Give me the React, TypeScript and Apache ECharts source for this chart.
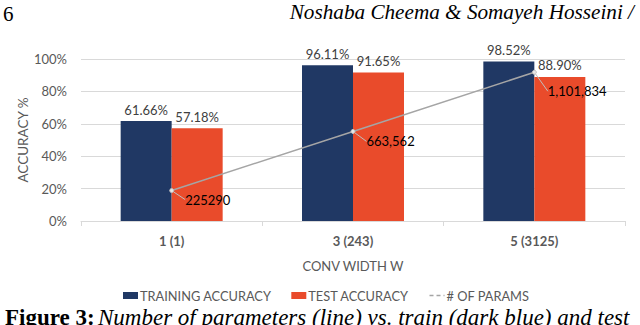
import React, { useEffect, useRef } from "react";
import * as echarts from "echarts";

const categories = ["1 (1)", "3 (243)", "5 (3125)"];
const trainAcc = [61.66, 96.11, 98.52];
const testAcc = [57.18, 91.65, 88.9];
const numParams = [225290, 663562, 1101834];
const paramLabels = ["225290", "663,562", "1,101,834"];
const yTicks = [0, 20, 40, 60, 80, 100];

const FONT = "Lato";
const GRAY = "#595959";

export default function App() {
  const ref = useRef<HTMLDivElement>(null);
  useEffect(() => {
    if (!ref.current) return;
    const chart = echarts.init(ref.current, null, { renderer: "svg" });
    const labelDy = [9, 10, 19];
    chart.setOption({
      animation: false,
      backgroundColor: "#ffffff",
      textStyle: { fontFamily: FONT },
      grid: { left: 81, right: 15, top: 59, bottom: 104 },
      legend: {
        top: 284,
        left: 118,
        itemWidth: 15,
        itemHeight: 7,
        itemGap: 20,
        textStyle: {
          color: GRAY,
          fontSize: 12.8,
          fontFamily: FONT,
          padding: [0, 0, 0, -3],
        },
        data: [
          { name: "TRAINING ACCURACY", icon: "rect" },
          { name: "TEST ACCURACY", icon: "rect" },
          {
            name: "# OF PARAMS",
            itemStyle: { opacity: 0 },
            lineStyle: { type: [4, 3], width: 1.5, color: "#A5A5A5" },
          },
        ],
      },
      xAxis: {
        type: "category",
        data: categories,
        boundaryGap: true,
        axisLine: { lineStyle: { color: "#D9D9D9" } },
        axisTick: { show: true, length: 5, lineStyle: { color: "#D9D9D9" } },
        axisLabel: {
          color: GRAY,
          fontSize: 13,
          fontWeight: "bold",
          margin: 13,
          fontFamily: FONT,
        },
        name: "CONV WIDTH W",
        nameLocation: "middle",
        nameGap: 38,
        nameTextStyle: { color: GRAY, fontSize: 13, fontFamily: FONT },
      },
      yAxis: [
        {
          type: "value",
          min: 0,
          max: 100,
          interval: 20,
          axisLabel: {
            formatter: (v: number) => (yTicks.includes(v) ? v + "%" : ""),
            color: GRAY,
            fontSize: 13,
            margin: 14,
            fontFamily: FONT,
          },
          splitLine: { lineStyle: { color: "#D9D9D9" } },
          axisLine: { show: false },
        },
        {
          type: "value",
          min: 0,
          max: 1200000,
          show: false,
          splitLine: { show: false },
        },
      ],
      series: [
        {
          name: "TRAINING ACCURACY",
          type: "bar",
          data: trainAcc,
          barWidth: 51,
          barGap: "0%",
          itemStyle: { color: "#203864" },
          label: {
            show: true,
            position: "top",
            formatter: (p: any) => p.value.toFixed(2) + "%",
            color: "#404040",
            fontSize: 13,
            fontFamily: FONT,
            distance: 5,
          },
        },
        {
          name: "TEST ACCURACY",
          type: "bar",
          data: testAcc,
          barWidth: 51,
          barGap: "0%",
          itemStyle: { color: "#E94B2B" },
          label: {
            show: true,
            position: "top",
            formatter: (p: any) => p.value.toFixed(2) + "%",
            color: "#404040",
            fontSize: 13,
            fontFamily: FONT,
            distance: 5,
          },
        },
        {
          name: "# OF PARAMS",
          type: "line",
          yAxisIndex: 1,
          data: numParams,
          symbol: "circle",
          symbolSize: 4,
          itemStyle: { color: "#E6E6E6", borderColor: "#BFBFBF", borderWidth: 1 },
          lineStyle: { color: "#A5A5A5", width: 1.5 },
          z: 5,
          label: {
            show: true,
            position: "right",
            distance: 5,
            formatter: (p: any) => paramLabels[p.dataIndex],
            color: "#000000",
            fontSize: 13,
            fontFamily: FONT,
          },
          labelLayout: (p: any) => ({ dx: 6, dy: labelDy[p.dataIndex] }),
          labelLine: {
            show: true,
            length2: 0,
            lineStyle: { color: "#BFBFBF", width: 1 },
          },
        },
      ],
      graphic: [
        {
          type: "text",
          x: 23,
          y: 140,
          rotation: Math.PI / 2,
          style: {
            text: "ACCURACY %",
            font: `13.5px ${FONT}`,
            fill: GRAY,
            align: "center",
            verticalAlign: "middle",
          },
        },
        {
          type: "text",
          left: 3,
          top: 3,
          style: {
            text: "6",
            font: "21px 'Liberation Serif'",
            fill: "#000",
          },
        },
        {
          type: "text",
          right: 6,
          top: 1,
          style: {
            text: "Noshaba Cheema & Somayeh Hosseini /",
            font: "italic 21.2px 'Liberation Serif'",
            fill: "#000",
          },
        },
        {
          type: "text",
          left: 5,
          top: 306,
          style: {
            text: "{b|Figure 3:} {i|Number of parameters (line) vs. train (dark blue) and test}",
            rich: {
              b: { font: "bold 23px 'Liberation Serif'", fill: "#000" },
              i: { font: "italic 23px 'Liberation Serif'", fill: "#000" },
            },
            fill: "#000",
          },
        },
      ],
    });
    return () => chart.dispose();
  }, []);
  return (
    <div
      ref={ref}
      style={{ position: "fixed", left: 0, top: 0, width: 640, height: 325 }}
    />
  );
}
